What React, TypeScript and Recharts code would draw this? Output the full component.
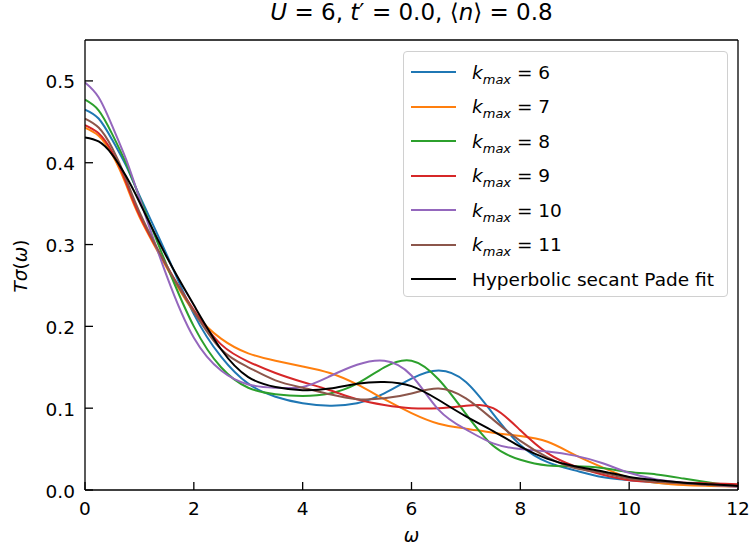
import { LineChart, Line, XAxis, YAxis, ReferenceLine } from 'recharts';

const omega = [0, 0.25, 0.5, 0.75, 1, 1.5, 2, 2.5, 3, 3.5, 4, 4.5, 5, 5.5, 6, 6.5, 7, 7.5, 8, 8.5, 9, 9.5, 10, 10.5, 11, 11.5, 12];

const k6 = [0.465, 0.454, 0.428, 0.397, 0.36, 0.288, 0.215, 0.163, 0.13, 0.114, 0.106, 0.103, 0.106, 0.118, 0.136, 0.146, 0.132, 0.093, 0.055, 0.034, 0.024, 0.016, 0.012, 0.009, 0.007, 0.006, 0.005];
const k7 = [0.443, 0.433, 0.41, 0.374, 0.334, 0.272, 0.218, 0.185, 0.167, 0.158, 0.151, 0.143, 0.129, 0.111, 0.094, 0.081, 0.075, 0.07, 0.066, 0.059, 0.043, 0.028, 0.015, 0.009, 0.006, 0.005, 0.004];
const k8 = [0.477, 0.464, 0.435, 0.4, 0.358, 0.275, 0.2, 0.15, 0.125, 0.117, 0.115, 0.118, 0.13, 0.15, 0.158, 0.135, 0.093, 0.054, 0.037, 0.03, 0.029, 0.027, 0.022, 0.019, 0.014, 0.009, 0.005];
const k9 = [0.446, 0.436, 0.413, 0.377, 0.336, 0.274, 0.22, 0.178, 0.157, 0.143, 0.132, 0.122, 0.111, 0.104, 0.1, 0.1, 0.103, 0.1, 0.073, 0.045, 0.029, 0.019, 0.012, 0.01, 0.009, 0.008, 0.007];
const k10 = [0.498, 0.48, 0.445, 0.405, 0.357, 0.262, 0.186, 0.146, 0.129, 0.125, 0.126, 0.139, 0.153, 0.158, 0.14, 0.098, 0.074, 0.057, 0.05, 0.047, 0.042, 0.033, 0.021, 0.013, 0.009, 0.006, 0.004];
const k11 = [0.454, 0.443, 0.418, 0.381, 0.34, 0.274, 0.218, 0.172, 0.15, 0.134, 0.125, 0.117, 0.111, 0.112, 0.118, 0.124, 0.112, 0.086, 0.06, 0.04, 0.027, 0.021, 0.014, 0.01, 0.008, 0.006, 0.005];
const padeFit = [0.431, 0.426, 0.41, 0.384, 0.352, 0.285, 0.226, 0.172, 0.138, 0.126, 0.122, 0.124, 0.13, 0.132, 0.127, 0.11, 0.09, 0.072, 0.053, 0.038, 0.029, 0.023, 0.016, 0.012, 0.009, 0.007, 0.005];

const xTicks = [0, 2, 4, 6, 8, 10, 12];
const yTicks = [0, 0.1, 0.2, 0.3, 0.4, 0.5];

const series = [
  { key: 'k6', kmax: '6', color: '#1f77b4', values: k6 },
  { key: 'k7', kmax: '7', color: '#ff7f0e', values: k7 },
  { key: 'k8', kmax: '8', color: '#2ca02c', values: k8 },
  { key: 'k9', kmax: '9', color: '#d62728', values: k9 },
  { key: 'k10', kmax: '10', color: '#9467bd', values: k10 },
  { key: 'k11', kmax: '11', color: '#8c564b', values: k11 },
  { key: 'fit', kmax: null, color: '#000000', values: padeFit },
];

const data = omega.map((w, i) => {
  const row: Record<string, number> = { omega: w };
  series.forEach((s) => {
    row[s.key] = s.values[i];
  });
  return row;
});

const FONT = '"DejaVu Sans", sans-serif';
const FS = 18.5;
const AXIS_X = 85;
const AXIS_Y = 490;

function XTick(props: any) {
  const { x, payload } = props;
  return (
    <g>
      <line x1={x} x2={x} y1={AXIS_Y} y2={AXIS_Y - 8} stroke="#000" strokeWidth={1.3} />
      <text x={x} y={AXIS_Y + 25} textAnchor="middle" fontSize={FS} fontFamily={FONT} fill="#000">
        {payload.value}
      </text>
    </g>
  );
}

function YTick(props: any) {
  const { y, payload } = props;
  return (
    <g>
      <line x1={AXIS_X} x2={AXIS_X + 8} y1={y} y2={y} stroke="#000" strokeWidth={1.3} />
      <text x={AXIS_X - 10} y={y + 7.5} textAnchor="end" fontSize={FS} fontFamily={FONT} fill="#000">
        {Number(payload.value).toFixed(1)}
      </text>
    </g>
  );
}

export default function App() {
  return (
    <div style={{ position: 'absolute', left: 0, top: 0, width: 751, height: 548, fontFamily: FONT, background: '#fff' }}>
      <LineChart width={751} height={548} data={data} margin={{ top: 40, right: 13, bottom: 0, left: 0 }}>
        <XAxis
          type="number"
          dataKey="omega"
          domain={[0, 12]}
          ticks={xTicks}
          height={58}
          tick={<XTick />}
          tickLine={false}
          axisLine={{ stroke: '#000', strokeWidth: 1.3 }}
          allowDataOverflow
        />
        <YAxis
          type="number"
          domain={[0, 0.55]}
          ticks={yTicks}
          width={85}
          tick={<YTick />}
          tickLine={false}
          axisLine={{ stroke: '#000', strokeWidth: 1.3 }}
          allowDataOverflow
        />
        <ReferenceLine y={0.55} stroke="#000" strokeWidth={1.3} />
        <ReferenceLine x={12} stroke="#000" strokeWidth={1.3} />
        {series.map((s) => (
          <Line
            key={s.key}
            type="natural"
            dataKey={s.key}
            stroke={s.color}
            strokeWidth={2}
            dot={false}
            activeDot={false}
            isAnimationActive={false}
          />
        ))}
      </LineChart>

      <div style={{ position: 'absolute', left: 0, width: 823, top: -1, textAlign: 'center', fontSize: 23, whiteSpace: 'nowrap' }}>
        <i>U</i> = 6, <i>t</i>′ = 0.0, ⟨<i>n</i>⟩ = 0.8
      </div>

      <div
        style={{
          position: 'absolute',
          left: 20,
          top: 266,
          transform: 'translate(-50%, -50%) rotate(-90deg)',
          fontSize: FS,
          whiteSpace: 'nowrap',
        }}
      >
        <i>Tσ</i>(<i>ω</i>)
      </div>

      <div style={{ position: 'absolute', left: 0, width: 823, top: 525, textAlign: 'center', fontSize: FS, fontStyle: 'italic' }}>ω</div>

      <div
        style={{
          position: 'absolute',
          left: 403,
          top: 51,
          width: 325,
          height: 246,
          border: '1px solid #d0d0d0',
          borderRadius: 4,
          background: 'rgba(255,255,255,0.8)',
          boxSizing: 'border-box',
        }}
      >
        {series.map((s, i) => (
          <div
            key={s.key}
            style={{ position: 'absolute', left: 0, top: 20 + i * 34.5 - 17, height: 34, display: 'flex', alignItems: 'center', fontSize: FS, whiteSpace: 'nowrap' }}
          >
            <span style={{ display: 'inline-block', marginLeft: 7, width: 45, height: 2, background: s.color }} />
            <span style={{ marginLeft: 16 }}>
              {s.kmax ? (
                <>
                  <i>k</i>
                  <i style={{ fontSize: 13, position: 'relative', top: 5 }}>max</i> = {s.kmax}
                </>
              ) : (
                'Hyperbolic secant Pade fit'
              )}
            </span>
          </div>
        ))}
      </div>
    </div>
  );
}
